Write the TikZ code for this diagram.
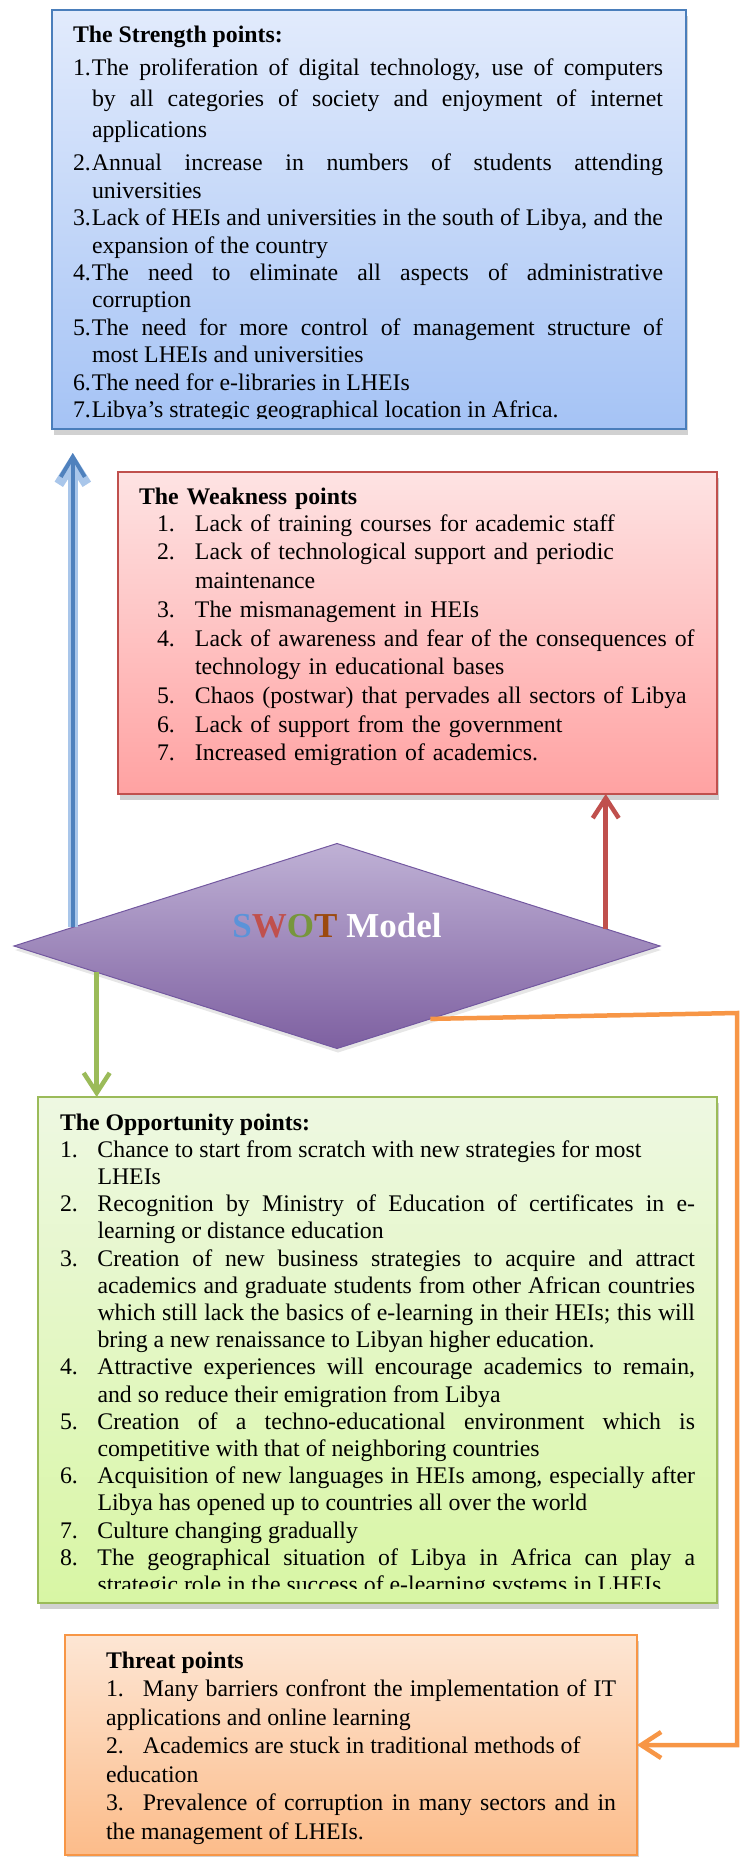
\documentclass[tikz,border=0pt]{standalone}
\usepackage{fontspec}
\setmainfont{Liberation Serif}
\usetikzlibrary{arrows.meta,calc,shapes.geometric,shadows}

\definecolor{sTop}{HTML}{E2EBFC}
\definecolor{sBot}{HTML}{A5C3F5}
\definecolor{sLine}{HTML}{4A7EBB}
\definecolor{wTop}{HTML}{FEE3E3}
\definecolor{wBot}{HTML}{FFA2A2}
\definecolor{wLine}{HTML}{C0504D}
\definecolor{oTop}{HTML}{EEF8E2}
\definecolor{oBot}{HTML}{D8F6A4}
\definecolor{oLine}{HTML}{9BBB59}
\definecolor{tTop}{HTML}{FDE6D4}
\definecolor{tBot}{HTML}{FCBC8A}
\definecolor{tLine}{HTML}{F79646}
\definecolor{dTop}{HTML}{BFB1D5}
\definecolor{dBot}{HTML}{7E60A1}
\definecolor{dLine}{HTML}{7358A0}
\definecolor{blueC}{HTML}{4F81BD}
\definecolor{blueL}{HTML}{A9C6EA}
\definecolor{redC}{HTML}{C0504D}
\definecolor{swS}{HTML}{5B93D9}
\definecolor{swW}{HTML}{C0504D}
\definecolor{swO}{HTML}{77963C}
\definecolor{swT}{HTML}{9C4A0E}

\newcommand{\hitem}[3]{\par\noindent\hangindent=#1\hangafter=1\makebox[#1][l]{#2}#3\par}
\newcommand{\witem}[2]{\par\noindent\hangindent=56pt\hangafter=1\hspace*{18pt}\makebox[38pt][l]{#1}#2\par}
\newcommand{\titem}[2]{\par\noindent\makebox[37pt][l]{#1}#2\par}

\begin{document}
\begin{tikzpicture}[x=1pt,y=-1pt,
  box/.style={draw, line width=1.4pt, inner sep=0pt, outer sep=0pt, anchor=north west,
     drop shadow={shadow xshift=1.5pt, shadow yshift=-6pt, opacity=0.3, fill=black!60}},
  txt/.style={inner sep=0pt, outer sep=0pt, anchor=base west,
     font=\fontsize{23.8}{27.4}\selectfont,
     execute at begin node={\parindent=0pt\parskip=0pt\hyphenpenalty=10000\exhyphenpenalty=10000\tolerance=9999\hbadness=10000}},
  conn/.style={line width=4.5pt},
  barb/.style={-{Straight Barb[length=20pt,width=26pt]}},
]
\useasboundingbox (0,0) rectangle (747,1857);

% Strength box
\node[box, draw=sLine, top color=sTop, bottom color=sBot, minimum width=634, minimum height=419] (S) at (52,10) {};
\begin{scope}
\clip (S.north west) rectangle ($(S.south east)+(0,-11)$);
\node[txt, text width=590, align=justify] (St) at (73,43) {%
\textbf{The Strength points:}\par
\vspace{2pt}%
{\baselineskip=31pt\hitem{19pt}{1.}{The proliferation of digital technology, use of computers\linebreak by all categories of society and enjoyment of internet\linebreak applications}}%
\vspace{5.6pt}%
\hitem{19pt}{2.}{Annual increase in numbers of students attending\linebreak universities}%
\hitem{19pt}{3.}{Lack of HEIs and universities in the south of Libya, and the\linebreak expansion of the country}%
\hitem{19pt}{4.}{The need to eliminate all aspects of administrative\linebreak corruption}%
\hitem{19pt}{5.}{The need for more control of management structure of\linebreak most LHEIs and universities}%
\hitem{19pt}{6.}{The need for e-libraries in LHEIs}%
\hitem{19pt}{7.}{Libya’s strategic geographical location in Africa.}%
};
\end{scope}

% Weakness box
\node[box, draw=wLine, top color=wTop, bottom color=wBot, minimum width=599, minimum height=322] (W) at (118,472) {};
\node[txt, text width=566, align=left] (Wt) at (139,504) {%
\textbf{The Weakness points}\par
\baselineskip=28.7pt
\vspace{-1.5pt}%
\witem{1.}{Lack of training courses for academic staff}%
\witem{2.}{Lack of technological support and periodic\newline maintenance}%
\witem{3.}{The mismanagement in HEIs}%
\witem{4.}{Lack of awareness and fear of the consequences of\newline technology in educational bases}%
\witem{5.}{Chaos (postwar) that pervades all sectors of Libya}%
\witem{6.}{Lack of support from the government}%
\witem{7.}{Increased emigration of academics.}%
};

% Opportunity box
\node[box, draw=oLine, top color=oTop, bottom color=oBot, minimum width=679, minimum height=506] (O) at (38,1097) {};
\begin{scope}
\clip (O.north west) rectangle ($(O.south east)+(0,-15)$);
\node[txt, text width=635, align=justify] (Ot) at (60,1130) {%
\textbf{The Opportunity points:}\par
\baselineskip=27.2pt
\hitem{37.5pt}{1.}{Chance to start from scratch with new strategies for most\newline LHEIs}%
\hitem{37.5pt}{2.}{Recognition by Ministry of Education of certificates in e-\linebreak learning or distance education}%
\hitem{37.5pt}{3.}{Creation of new business strategies to acquire and attract\linebreak academics and graduate students from other African countries\linebreak which still lack the basics of e-learning in their HEIs; this will\linebreak bring a new renaissance to Libyan higher education.}%
\hitem{37.5pt}{4.}{Attractive experiences will encourage academics to remain,\linebreak and so reduce their emigration from Libya}%
\hitem{37.5pt}{5.}{Creation of a techno-educational environment which is\linebreak competitive with that of neighboring countries}%
\hitem{37.5pt}{6.}{Acquisition of new languages in HEIs among, especially after\linebreak Libya has opened up to countries all over the world}%
\hitem{37.5pt}{7.}{Culture changing gradually}%
\hitem{37.5pt}{8.}{The geographical situation of Libya in Africa can play a\linebreak strategic role in the success of e-learning systems in LHEIs}%
};
\end{scope}

% Threat box
\node[box, draw=tLine, top color=tTop, bottom color=tBot, minimum width=572, minimum height=220] (T) at (65,1635) {};
\node[txt, text width=510, align=justify] (Tt) at (106,1668) {%
\textbf{Threat points}\par
\baselineskip=28.5pt
\titem{1.}{Many barriers confront the implementation of IT\linebreak applications and online learning}%
\titem{2.}{Academics are stuck in traditional methods of\newline education}%
\titem{3.}{Prevalence of corruption in many sectors and in\linebreak the management of LHEIs.}%
};

% Diamond
\node[diamond, minimum width=646, minimum height=205, inner sep=0pt, outer sep=0pt,
  draw=dLine, line width=1pt, top color=dTop, bottom color=dBot,
  drop shadow={shadow xshift=1pt, shadow yshift=-4pt, opacity=0.2, fill=black!50}] (D) at (337,946) {};
\node[inner sep=0pt, anchor=base, font=\fontsize{35}{40}\selectfont\bfseries] (Dt) at (337,937)
  {\textcolor{swS}{S}\textcolor{swW}{W}\textcolor{swO}{O}\textcolor{swT}{T} \textcolor{white}{Model}};

% Connectors
\coordinate (bS) at ($(D.west)!0.182!(D.north)$);
\coordinate (rS) at ($(D.north)!0.832!(D.east)$);
\coordinate (gS) at ($(D.west)!0.256!(D.south)$);
\coordinate (oS) at ($(D.south)!0.289!(D.east)$);
\coordinate (oC) at (737,1013);

\draw[line width=4pt, draw=blueC, -{Straight Barb[length=20pt,width=24pt]}, shorten >=24pt,
  preaction={draw=blueL, line width=10pt, -{Straight Barb[length=22pt,width=28pt]}}]
  (bS) -- (bS |- S.south);
\draw[conn, draw=redC, barb] (rS) -- (rS |- W.south);
\draw[conn, draw=oLine, barb] (gS) -- (gS |- O.north);
\draw[conn, draw=tLine, barb] (oS) -- (oC) -- (oC |- T.east) -- (T.east);
\end{tikzpicture}
\end{document}
